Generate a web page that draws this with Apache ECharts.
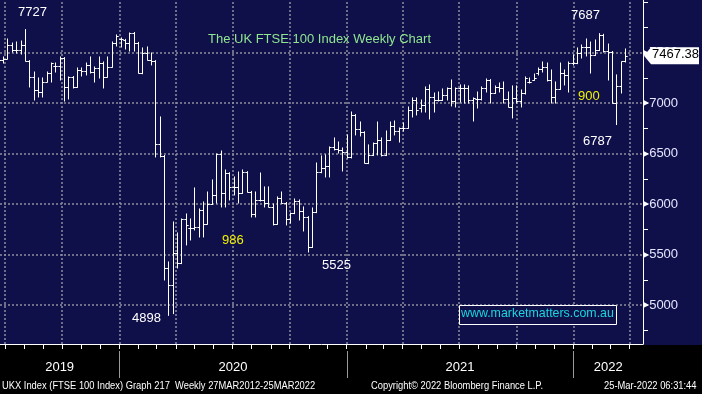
<!DOCTYPE html>
<html><head><meta charset="utf-8">
<script src="https://cdn.jsdelivr.net/npm/echarts@6/dist/echarts.min.js"></script>
<style>html,body{margin:0;padding:0;background:#000;}#c{width:702px;height:394px;}</style>
</head><body><div id="c"></div><script>
// ---- data (weekly OHLC, FTSE 100, Jun 2019 - Mar 2022) ----
const weekOpen = [7416,7426,7436,7574,7525,7525,7574,7416,7258,7129,
7109,7208,7297,7367,7367,7446,7159,7258,7159,7327,
7317,7377,7307,7347,7396,7258,7357,7594,7634,7624,
7594,7693,7594,7297,7495,7426,7416,6594,6476,5367,
5198,5515,5416,5852,5763,5763,5773,5941,5802,6000,
6090,6495,6109,6307,6169,6169,6109,6317,6119,5901,
6040,6040,6010,5971,5802,6060,6010,5852,5911,6030,
5931,5872,5575,5921,6317,6357,6377,6565,6545,6535,
6515,6466,6882,6743,6713,6406,6486,6604,6634,6486,
6634,6773,6723,6753,6753,6931,7030,6951,6981,7139,
7060,7030,7030,7080,7149,7020,7149,7149,7149,7030,
7040,7040,7149,7228,7099,7159,7149,7040,6961,7050,
7020,7099,7208,7228,7297,7337,7357,7228,7060,7139,
7297,7278,7396,7396,7495,7555,7555,7476,7525,7674,
7515,7505,7000,7169,7416];
const weekHigh = [7466,7456,7634,7594,7604,7614,7727,7420,7307,7248,
7248,7307,7396,7396,7456,7450,7258,7262,7347,7347,
7396,7456,7357,7456,7406,7456,7604,7674,7644,7630,
7693,7698,7600,7545,7555,7495,7420,6862,6480,5426,
5822,5713,5852,5901,5852,6159,5951,6020,6119,6238,
6495,6525,6337,6310,6268,6317,6337,6320,6125,6119,
6307,6169,6169,6000,6070,6119,6015,5911,6050,6040,
5971,5875,5961,6406,6476,6486,6565,6654,6614,6555,
6684,6911,6885,6812,6715,6585,6604,6812,6654,6723,
6812,6822,6753,6802,6961,7050,7050,7030,7159,7179,
7099,7109,7139,7149,7228,7149,7179,7179,7169,7050,
7109,7159,7238,7232,7169,7198,7208,7109,7169,7169,
7129,7258,7248,7287,7347,7406,7396,7327,7208,7396,
7327,7406,7476,7545,7574,7634,7604,7624,7687,7680,
7584,7510,7278,7406,7535];
const weekLow = [7347,7396,7436,7505,7495,7485,7416,7159,7030,7060,
7060,7208,7208,7307,7228,7020,7040,7149,7155,7268,
7278,7297,7208,7248,7149,7255,7355,7565,7555,7535,
7515,7515,7297,7290,7426,7377,6466,6466,5248,4898,
4915,5367,5410,5595,5644,5743,5674,5674,5800,5995,
6010,5971,5971,6040,6090,6010,6105,6119,5872,5872,
6030,5971,5971,5793,5800,6010,5793,5812,5905,5842,
5733,5525,5570,5915,6310,6268,6268,6535,6505,6327,
6456,6456,6684,6674,6406,6400,6480,6486,6476,6480,
6630,6684,6614,6723,6750,6862,6882,6911,6911,6842,
6911,7020,7025,7030,6971,6961,7010,7000,7000,6822,
6951,7030,7109,7000,7095,7109,7000,6961,6852,7000,
6961,7089,7198,7225,7278,7307,7218,7000,7000,7135,
7179,7109,7377,7390,7446,7466,7297,7470,7520,7505,
7228,7000,6787,7099,7406];
const weekClose = [7426,7436,7574,7525,7525,7574,7416,7258,7129,7109,
7208,7297,7396,7367,7446,7159,7258,7159,7327,7317,
7377,7307,7347,7396,7258,7357,7594,7664,7634,7594,
7693,7594,7297,7495,7426,7416,6594,6476,5367,5198,
5515,5416,5852,5793,5763,5773,5941,5802,6000,6090,
6495,6109,6307,6169,6169,6109,6317,6119,5901,6040,
6040,6010,5971,5802,6060,6010,5852,5911,6030,5931,
5872,5575,5921,6317,6357,6377,6565,6545,6535,6515,
6466,6882,6743,6713,6406,6486,6604,6634,6486,6634,
6773,6723,6753,6753,6931,7030,6931,6981,7139,7060,
7030,7030,7080,7149,7020,7149,7149,7149,7030,7050,
7040,7149,7228,7099,7159,7149,7040,6961,7050,7020,
7099,7248,7208,7248,7337,7357,7228,7060,7139,7297,
7278,7396,7396,7495,7555,7555,7476,7525,7674,7515,
7505,7000,7169,7416,7467.38];
const firstWeekEnd = '2019-06-21';
const axisStart = '2019-06-23', axisEnd = '2022-04-23';
const quarterStarts = ['2019-07-01','2019-10-01','2020-01-01','2020-04-01','2020-07-01','2020-10-01',
  '2021-01-01','2021-04-01','2021-07-01','2021-10-01','2022-01-01','2022-04-01'];
const yearStarts = ['2020-01-01','2021-01-01','2022-01-01'];
const yearLabels = ['2019','2020','2021','2022'];
const priceGridLevels = [5000,5500,6000,6500,7000,7500];
const priceLabelLevels = [5000,5500,6000,6500,7000,7500];
const priceTickLevels = [4750,5000,5250,5500,5750,6000,6250,6500,6750,7000,7250,7500,7750,8000];
const lastPrice = 7467.38;
const titleText = 'The UK FTSE 100 Index Weekly Chart';

// ---- build ----
const DAY = 86400000;
const ts = s => Date.parse(s + 'T00:00:00Z');
const xMin = ts(axisStart), xMax = ts(axisEnd);
const t0 = ts(firstWeekEnd);
const bars = weekClose.map((c, i) => [t0 + i * 7 * DAY, weekOpen[i], weekHigh[i], weekLow[i], c]);
const monthTicks = [];
for (let y = 2019, m = 6; y < 2022 || (y === 2022 && m <= 3); m++) {
  if (m > 11) { m = 0; y++; }
  monthTicks.push(Date.UTC(y, m, 1));
}
const yb = [xMin].concat(yearStarts.map(ts)).concat([xMax]);
const yearMid = yearLabels.map((_, i) => Math.round((yb[i] + yb[i + 1]) / 2));

const FONT = '"Liberation Sans", Arial, sans-serif';
const NAVY = '#0f0f4a';
const chart = echarts.init(document.getElementById('c'));
chart.setOption({
  animation: false,
  backgroundColor: NAVY,
  grid: { left: 0, top: 0, right: 59, bottom: 50 },
  xAxis: {
    type: 'value', min: xMin, max: xMax, scale: true,
    axisLine: { show: true, lineStyle: { color: '#ffffff', width: 1 } },
    axisTick: { show: true, customValues: monthTicks, length: 5, lineStyle: { color: '#ffffff' } },
    axisLabel: { show: true, customValues: yearMid, hideOverlap: false,
      formatter: v => String(new Date(v).getUTCFullYear()),
      color: '#ffffff', fontSize: 13, fontFamily: FONT, margin: 17 },
    splitLine: { show: false }
  },
  yAxis: {
    type: 'value', position: 'right', min: 4614, max: 8020, scale: true,
    axisLine: { show: true, lineStyle: { color: '#ffffff', width: 1 } },
    axisTick: { show: true, customValues: priceTickLevels, length: 5, lineStyle: { color: '#ffffff' } },
    axisLabel: { customValues: priceLabelLevels, margin: 0,
      formatter: v => '{a|\u25B6}{b|' + v + '}',
      rich: { a: { fontSize: 8, color: '#ffffff', fontFamily: 'DejaVu Sans' },
              b: { fontSize: 13, color: '#e6e6ff', fontFamily: FONT } } },
    splitLine: { show: false }
  },
  series: [
    { type: 'line', data: [], silent: true,
      markLine: { silent: true, symbol: ['none', 'none'], label: { show: false },
        lineStyle: { color: '#8e8e9e', type: [2, 2], width: 1.5 },
        data: quarterStarts.map(s => ({ xAxis: ts(s) })).concat(priceGridLevels.map(v => ({ yAxis: v }))) } },
    { type: 'custom', data: bars, z: 5, clip: true,
      encode: { x: 0, y: [1, 2, 3, 4] },
      renderItem: (params, api) => {
        const t = api.value(0);
        const o = api.coord([t, api.value(1)]), h = api.coord([t, api.value(2)]),
              l = api.coord([t, api.value(3)]), c = api.coord([t, api.value(4)]);
        const x = Math.round(o[0]) + 0.5, half = 2.2;
        const st = { stroke: '#ffffff', lineWidth: 1 };
        return { type: 'group', children: [
          { type: 'line', shape: { x1: x, y1: h[1] - 0.5, x2: x, y2: l[1] + 0.5 }, style: st },
          { type: 'line', shape: { x1: x - half, y1: Math.round(o[1]) + 0.5, x2: x, y2: Math.round(o[1]) + 0.5 }, style: st },
          { type: 'line', shape: { x1: x, y1: Math.round(c[1]) + 0.5, x2: x + half, y2: Math.round(c[1]) + 0.5 }, style: st }
        ] };
      } },
    { type: 'custom', data: yearStarts.map(s => [ts(s), 5000]), silent: true, clip: false,
      encode: { x: 0, y: 1 },
      renderItem: (params, api) => {
        const p = api.coord([api.value(0), api.value(1)]);
        const cs = params.coordSys;
        const x = Math.round(p[0]) + 0.5, yb0 = cs.y + cs.height;
        return { type: 'line', shape: { x1: x, y1: yb0 + 7, x2: x, y2: yb0 + 34 },
          style: { stroke: '#9a9a9a', lineWidth: 1 } };
      } }
  ]
});

const axisX = chart.convertToPixel({ xAxisIndex: 0 }, xMax);
const tagY = chart.convertToPixel({ yAxisIndex: 0 }, lastPrice);
const txt = (id, s, x, y, color, size) => ({ id, type: 'text', left: x, top: y - size / 2 - 1, z: 10,
  style: { text: s, fill: color, font: size + 'px ' + FONT } });
const foot = (id, s, x) => ({ id, type: 'text', left: x, top: 380, z: 10, scaleX: 0.85, origin: [0, 0],
  style: { text: s, fill: '#ffffff', font: '11px ' + FONT } });
chart.setOption({
  graphic: [
    { id: 'bottomStrip', type: 'rect', left: 0, top: 345, z: -1, shape: { width: 702, height: 49 }, style: { fill: '#000000' } },
    txt('title', titleText, 208, 40, '#8fe68f', 13),
    txt('a7727', '7727', 18, 13, '#ffffff', 13),
    txt('a7687', '7687', 571, 16, '#ffffff', 13),
    txt('a900', '900', 578, 97, '#f2f200', 13),
    txt('a6787', '6787', 583, 142, '#ffffff', 13),
    txt('a986', '986', 222, 241, '#f2f200', 13),
    txt('a5525', '5525', 322, 266, '#ffffff', 13),
    txt('a4898', '4898', 132, 319, '#ffffff', 13),
    { id: 'wmBox', type: 'rect', left: 459, top: 305, z: 10, shape: { width: 157, height: 19 },
      style: { fill: NAVY, stroke: '#ffffff', lineWidth: 1 } },
    txt('wm', 'www.marketmatters.com.au', 461, 315, '#19d6de', 12.4),
    { id: 'tag', type: 'polygon', z: 10, shape: { points: [[axisX + 1, tagY], [axisX + 8, tagY - 8.5], [699, tagY - 8.5], [699, tagY + 8.5], [axisX + 8, tagY + 8.5]] },
      style: { fill: '#ffffff' } },
    txt('tagText', lastPrice.toFixed(2), axisX + 9, tagY, '#000000', 13),
    foot('f1', 'UKX Index (FTSE 100 Index) Graph 217  Weekly 27MAR2012-25MAR2022', 2),
    foot('f2', 'Copyright\u00A9 2022 Bloomberg Finance L.P.', 371),
    foot('f3', '25-Mar-2022 06:31:44', 604)
  ]
});
</script></body></html>
